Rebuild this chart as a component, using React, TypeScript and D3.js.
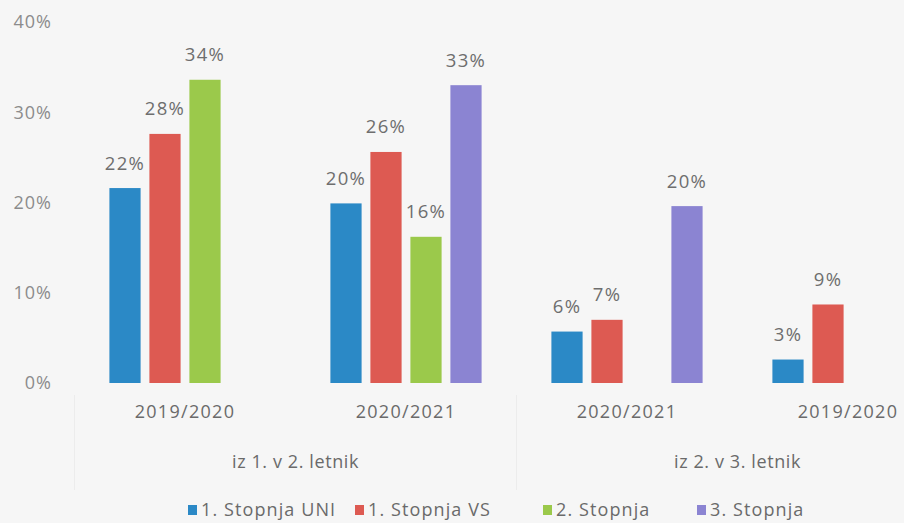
import React from "react";
import * as d3 from "d3";

const categories = ["2019/2020", "2020/2021", "2020/2021", "2019/2020"];
const groupLabels = ["iz 1. v 2. letnik", "iz 2. v 3. letnik"];
const seriesNames = ["1. Stopnja UNI", "1. Stopnja VS", "2. Stopnja", "3. Stopnja"];
const uni = [21.6, 19.9, 5.7, 2.6];
const vs = [27.6, 25.6, 7.0, 8.7];
const st2 = [33.6, 16.2, null, null];
const st3 = [null, 33.0, 19.6, null];
const yTicks = [0, 10, 20, 30, 40];
const colors = ["#2b89c6", "#dd5a52", "#9bc94b", "#8b84d2"];

const W = 904;
const H = 523;
const FONT = "'Open Sans', sans-serif";

export default function App() {
  const series = [uni, vs, st2, st3];
  const x0 = d3.scaleBand<number>().domain(d3.range(categories.length)).range([74.5, 958.5]).paddingInner(0).paddingOuter(0);
  const x1 = d3.scaleBand<number>().domain(d3.range(4)).range([30.5, 190.5]).paddingInner(0.22).paddingOuter(0.11);
  const y = d3.scaleLinear().domain([0, 40]).range([383, 22]);

  const bars: any[] = [];
  categories.forEach((c, gi) => {
    series.forEach((s, si) => {
      const v = s[gi];
      if (v == null) return;
      const bx = x0(gi)! + x1(si)!;
      bars.push({ key: `${gi}-${si}`, x: bx, w: x1.bandwidth(), v, si });
    });
  });

  const groupSpan = [
    [x0(0)!, x0(1)! + x0.bandwidth()],
    [x0(2)!, x0(3)! + x0.bandwidth()],
  ];

  const legendX = [188, 355, 543, 697];

  return (
    <div style={{ position: "fixed", left: 0, top: 0, width: W, height: H }}>
      <svg width={W} height={H} style={{ display: "block", background: "#f6f6f6" }} fontFamily={FONT}>
        {yTicks.map((t) => (
          <text key={t} x={52} y={y(t)} dy="0.35em" textAnchor="end" fontSize={18} fill="#8c8c8c" letterSpacing={1}>
            {t}%
          </text>
        ))}
        {bars.map((b) => (
          <g key={b.key}>
            <rect x={b.x} y={y(b.v)} width={b.w} height={y(0) - y(b.v)} fill={colors[b.si]} />
            <text x={b.x + b.w / 2} y={y(b.v) - 25} dy="0.35em" textAnchor="middle" fontSize={18.5} fill="#6e6e6e" letterSpacing={1.3}>
              {Math.round(b.v)}%
            </text>
          </g>
        ))}
        {categories.map((c, i) => (
          <text key={i} x={x0(i)! + x0.bandwidth() / 2} y={412} dy="0.35em" textAnchor="middle" fontSize={18} fill="#6a6a6a" letterSpacing={1.3}>
            {c}
          </text>
        ))}
        {groupSpan.map((g, i) => (
          <text key={i} x={(g[0] + g[1]) / 2} y={462} dy="0.35em" textAnchor="middle" fontSize={18} fill="#6a6a6a" letterSpacing={0.6}>
            {groupLabels[i]}
          </text>
        ))}
        {[x0(0)!, x0(2)!].map((xx, i) => (
          <line key={i} x1={xx} x2={xx} y1={395} y2={490} stroke="#ececec" strokeWidth={1} />
        ))}
        {seriesNames.map((n, i) => (
          <g key={n} transform={`translate(${legendX[i]},510)`}>
            <rect x={0} y={-5} width={9} height={10} fill={colors[i]} />
            <text x={13} y={0} dy="0.35em" fontSize={18} fill="#6a6a6a" letterSpacing={1.1}>
              {n}
            </text>
          </g>
        ))}
      </svg>
    </div>
  );
}
